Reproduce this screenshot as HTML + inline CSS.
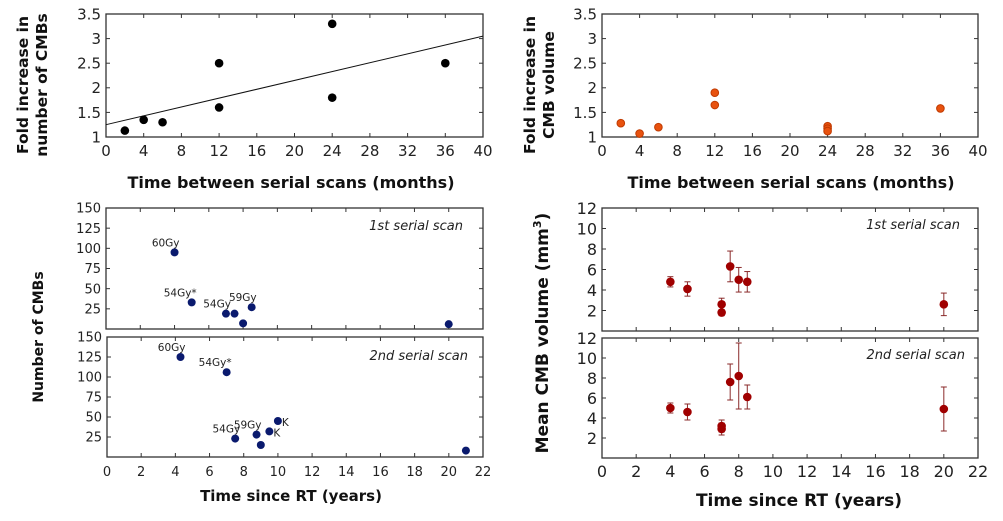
<!DOCTYPE html>
<html><head><meta charset="utf-8">
<style>
body{margin:0;background:#fff;width:1003px;height:521px;overflow:hidden}
svg{display:block;font-family:"DejaVu Sans","Liberation Sans",sans-serif}
</style></head>
<body>
<svg id="fig" width="1003" height="521" viewBox="0 0 1003 521" xmlns="http://www.w3.org/2000/svg"></svg>
<script>
// Top-left: fold increase in number of CMBs
const tlX = [2,4,6,12,12,24,24,36];
const tlY = [1.13,1.35,1.3,2.5,1.6,3.3,1.8,2.5];
const tlFitX = [0,40];
const tlFitY = [1.25,3.05];
// Top-right: fold increase in CMB volume
const trX = [2,4,6,12,12,24,24,24,36];
const trY = [1.28,1.07,1.2,1.9,1.65,1.22,1.17,1.12,1.58];
const monthTicks = [0,4,8,12,16,20,24,28,32,36,40];
const foldTicks = [1,1.5,2,2.5,3,3.5];
const foldTickLabels = ["1","1.5","2","2.5","3","3.5"];
// Bottom-left: number of CMBs
const s1X = [4,5,7,7.5,8,8.5,20];
const s1Y = [95,33,19,19,7,27,6];
const s1Labels = ["60Gy","54Gy*","54Gy","","","59Gy",""];
const s2X = [4.3,7,7.5,8.75,9,9.5,10,21];
const s2Y = [125,106,23,28,15,32,45,8];
const s2Labels = ["60Gy","54Gy*","54Gy","59Gy","","K","K",""];
const yearTicks = [0,2,4,6,8,10,12,14,16,18,20,22];
const countTicks = [25,50,75,100,125,150];
// Bottom-right: mean CMB volume
const v1X = [4,5,7,7,7.5,8,8.5,20];
const v1Y = [4.8,4.1,2.6,1.8,6.3,5.0,4.8,2.6];
const v1Err = [0.5,0.7,0.6,0.3,1.5,1.2,1.0,1.1];
const v2X = [4,5,7,7,7.5,8,8.5,20];
const v2Y = [5.0,4.6,3.2,2.9,7.6,8.2,6.1,4.9];
const v2Err = [0.5,0.8,0.6,0.6,1.8,3.3,1.2,2.2];
const volTicks = [2,4,6,8,10,12];

const NS="http://www.w3.org/2000/svg";
const svg=document.getElementById('fig');
function el(tag,attrs,parent){const e=document.createElementNS(NS,tag);for(const k in attrs)e.setAttribute(k,attrs[k]);(parent||svg).appendChild(e);return e;}
function txt(s,attrs,parent){const e=el('text',attrs,parent);e.textContent=s;return e;}

function panel(name,L,R,T,B,xmin,xmax,ymin,ymax,xt,yt,ytl,fs,showX){
  const g=el('g',{});
  
  
  const sx=v=>L+(v-xmin)/(xmax-xmin)*(R-L);
  const sy=v=>B-(v-ymin)/(ymax-ymin)*(B-T);
  const box=el('rect',{x:L,y:T,width:R-L,height:B-T,fill:'none',stroke:'#333','stroke-width':1.3},g);
  
  
  xt.forEach(v=>{
    el('line',{x1:sx(v),x2:sx(v),y1:B,y2:B-4,stroke:'#333'},g);
    el('line',{x1:sx(v),x2:sx(v),y1:T,y2:T+4,stroke:'#333'},g);
    if(showX){const t=txt(String(v),{x:sx(v),y:B+19,'font-size':fs,'text-anchor':'middle',fill:'#222'},g);
      
      }
  });
  yt.forEach((v,i)=>{
    el('line',{x1:L,x2:L+4,y1:sy(v),y2:sy(v),stroke:'#333'},g);
    el('line',{x1:R,x2:R-4,y1:sy(v),y2:sy(v),stroke:'#333'},g);
    const t=txt(ytl?ytl[i]:String(v),{x:L-5,y:sy(v)+fs*0.36,'font-size':fs,'text-anchor':'end',fill:'#222'},g);
    
    
  });
  return {g,sx,sy};
}
function dots(p,xs,ys,color,r,name,stroke){
  xs.forEach((x,i)=>{
    const c=el('circle',{cx:p.sx(x),cy:p.sy(ys[i]),r:r,fill:color,stroke:stroke||'none','stroke-width':1},p.g);
    
    
  });
}
function bold(s,x,y,fs,rot,name){
  const t=txt(s,{x:x,y:y,'font-size':fs,'font-weight':'bold','text-anchor':'middle',fill:'#111',transform:rot?`rotate(-90 ${x} ${y})`:''});
  
  
  return t;
}

// Top-left
const p1=panel('cmb-count-fold-chart',106,483,14,137,0,40,1,3.5,monthTicks,foldTicks,foldTickLabels,15,true);
const fit=el('line',{x1:p1.sx(tlFitX[0]),y1:p1.sy(tlFitY[0]),x2:p1.sx(tlFitX[1]),y2:p1.sy(tlFitY[1]),stroke:'#111','stroke-width':1},p1.g);


dots(p1,tlX,tlY,'#000',4.3,'data-point');
bold('Fold increase in',28,85,15.5,true,'y-axis-title');
bold('number of CMBs',47,85,15.5,true,'y-axis-title');
bold('Time between serial scans (months)',291,188,16,false,'x-axis-title');

// Top-right
const p2=panel('cmb-volume-fold-chart',602,978,14,137,0,40,1,3.5,monthTicks,foldTicks,foldTickLabels,15,true);
dots(p2,trX,trY,'#e8520f',3.8,'data-point','#c03a00');
bold('Fold increase in',535,85,15.5,true,'y-axis-title');
bold('CMB volume',554,85,15.5,true,'y-axis-title');
bold('Time between serial scans (months)',791,188,16,false,'x-axis-title');

// Bottom-left
const p3=panel('cmb-count-scan1-chart',106,483,208,329,0,22,0,150,yearTicks,countTicks,null,13,false);
const p4=panel('cmb-count-scan2-chart',107,483,337,457,0,22,0,150,yearTicks,countTicks,null,13,true);
dots(p3,s1X,s1Y,'#0a1a6e',4,'data-point');
dots(p4,s2X,s2Y,'#0a1a6e',4,'data-point');
function labels(p,xs,ys,ls){
  xs.forEach((x,i)=>{ if(!ls[i])return;
    let dx=-1,dy=-6,anchor='end';
    if(ls[i]==='K'){dx=4;dy=5;anchor='start';}
    const t=txt(ls[i],{x:p.sx(x)+dx+(ls[i]==='K'?0:6),y:p.sy(ys[i])+dy,'font-size':10.5,'text-anchor':anchor,fill:'#222'},p.g);
    
    
  });
}
labels(p3,s1X,s1Y,s1Labels);
labels(p4,s2X,s2Y,s2Labels);
const a1=txt('1st serial scan',{x:463,y:230,'font-size':13,'font-style':'italic','text-anchor':'end',fill:'#222'});

const a2=txt('2nd serial scan',{x:468,y:360,'font-size':13,'font-style':'italic','text-anchor':'end',fill:'#222'});

bold('Number of CMBs',43,337,14,true,'y-axis-title');
bold('Time since RT (years)',291,501,15,false,'x-axis-title');

// Bottom-right
const p5=panel('cmb-volume-scan1-chart',602,978,208,331,0,22,0,12,yearTicks,volTicks,null,16,false);
const p6=panel('cmb-volume-scan2-chart',602,978,338,458,0,22,0,12,yearTicks,volTicks,null,16,true);
function errs(p,xs,ys,es){
  xs.forEach((x,i)=>{
    const X=p.sx(x),y1=p.sy(ys[i]-es[i]),y2=p.sy(ys[i]+es[i]);
    const g=el('g',{stroke:'#8a2a2a','stroke-width':1},p.g);
    
    
    el('line',{x1:X,x2:X,y1:y1,y2:y2},g);
    el('line',{x1:X-3,x2:X+3,y1:y1,y2:y1},g);
    el('line',{x1:X-3,x2:X+3,y1:y2,y2:y2},g);
  });
}
errs(p5,v1X,v1Y,v1Err);errs(p6,v2X,v2Y,v2Err);
dots(p5,v1X,v1Y,'#a00000',4.3,'data-point');
dots(p6,v2X,v2Y,'#a00000',4.3,'data-point');
const a3=txt('1st serial scan',{x:960,y:229,'font-size':13,'font-style':'italic','text-anchor':'end',fill:'#222'});

const a4=txt('2nd serial scan',{x:965,y:359,'font-size':13,'font-style':'italic','text-anchor':'end',fill:'#222'});

const yt=bold('Mean CMB volume (mm',548,333,17,true,'y-axis-title');
const sup=el('tspan',{dy:-7,'font-size':11},yt);sup.textContent='3';
const cl=el('tspan',{dy:7},yt);cl.textContent=')';
bold('Time since RT (years)',799,506,17,false,'x-axis-title');
</script>
</body></html>
